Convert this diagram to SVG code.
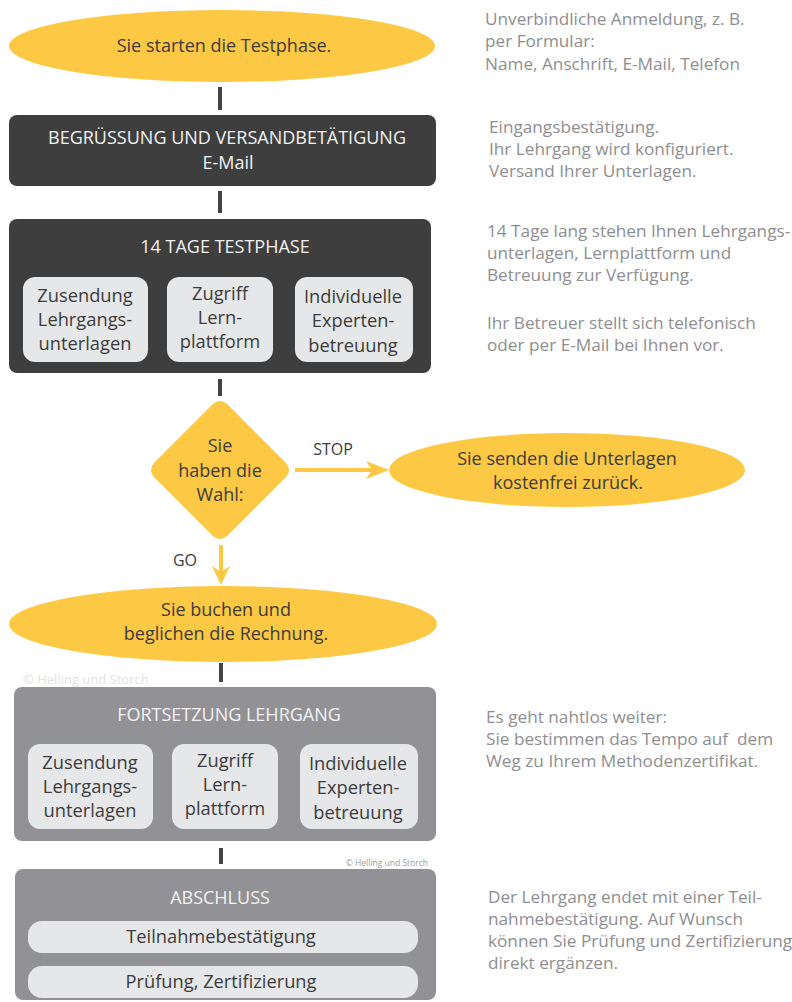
<svg xmlns="http://www.w3.org/2000/svg" width="792" height="1002" viewBox="0 0 792 1002">
<style>
.t{font-family:"Open Sans","Liberation Sans",sans-serif;text-anchor:middle}
.dk{fill:#3c3c3c;font-size:18px}
.wh{fill:#f2f2f2;font-size:18px}
.sb{fill:#3c3c3c;font-size:18.3px}
.note{font-family:"Open Sans","Liberation Sans",sans-serif;fill:#8e8e91;font-size:17.2px}
.yel{fill:#fdc843}
.dark{fill:#3e3e3e}
.gray{fill:#929296}
.sub{fill:#e6e7e8}
.con{stroke:#444;stroke-width:4}
.arr{stroke:#fdc843;stroke-width:4}
</style>
<rect width="792" height="1002" fill="#ffffff"/>
<g id="connectors">
<line class="con" x1="220" y1="87" x2="220" y2="110"/>
<line class="con" x1="220" y1="191" x2="220" y2="213"/>
<line class="con" x1="220" y1="379" x2="220" y2="396"/>
<line class="con" x1="221" y1="663" x2="221" y2="682"/>
<line class="con" x1="221" y1="848" x2="221" y2="864"/>
<line class="arr" x1="295" y1="470" x2="373" y2="470"/>
<polygon class="yel" points="366,461 389,470 366,479 372,470"/>
<line class="arr" x1="221" y1="545" x2="221" y2="573"/>
<polygon class="yel" points="212,566 221,585 230,566 221,572"/>
<text class="t dk" x="333" y="455" style="font-size:16px">STOP</text>
<text class="t dk" x="185" y="566" style="font-size:16px">GO</text>
</g>
<g id="start">
<ellipse class="yel" cx="222" cy="46" rx="213" ry="36"/>
<text class="t dk" x="224" y="52">Sie starten die Testphase.</text>
</g>
<g id="begruessung">
<rect class="dark" x="9" y="115" width="427" height="71" rx="8"/>
<text class="t wh" x="227" y="144">BEGRÜSSUNG UND VERSANDBETÄTIGUNG</text>
<text class="t wh" x="228" y="169">E-Mail</text>
</g>
<g id="testphase">
<rect class="dark" x="9" y="219" width="422" height="154" rx="8"/>
<text class="t wh" x="225" y="253">14 TAGE TESTPHASE</text>
<rect class="sub" x="23" y="277" width="125" height="85" rx="12"/>
<text class="t sb" x="85" y="302">Zusendung</text>
<text class="t sb" x="85" y="326">Lehrgangs-</text>
<text class="t sb" x="85" y="350">unterlagen</text>
<rect class="sub" x="167" y="277" width="106" height="85" rx="12"/>
<text class="t sb" x="220" y="300">Zugriff</text>
<text class="t sb" x="220" y="324">Lern-</text>
<text class="t sb" x="220" y="348">plattform</text>
<rect class="sub" x="295" y="277" width="118" height="85" rx="12"/>
<text class="t sb" x="353" y="303">Individuelle</text>
<text class="t sb" x="353" y="327">Experten-</text>
<text class="t sb" x="353" y="352">betreuung</text>
</g>
<g id="wahl">
<rect class="yel" x="-51.7" y="-51.7" width="103.4" height="103.4" rx="10" transform="translate(220,470) rotate(45)"/>
<text class="t dk" x="220" y="452">Sie</text>
<text class="t dk" x="220" y="477">haben die</text>
<text class="t dk" x="220" y="501">Wahl:</text>
</g>
<g id="stop">
<ellipse class="yel" cx="567" cy="470" rx="178" ry="37"/>
<text class="t dk" x="567" y="465">Sie senden die Unterlagen</text>
<text class="t dk" x="568" y="489">kostenfrei zurück.</text>
</g>
<g id="buchen">
<ellipse class="yel" cx="223" cy="624" rx="214" ry="38"/>
<text class="t dk" x="226" y="616">Sie buchen und</text>
<text class="t dk" x="226" y="640">beglichen die Rechnung.</text>
</g>
<text x="23" y="684" font-family="Open Sans, Liberation Sans, sans-serif" font-size="13" fill="#e2e2e2">© Helling und Storch</text>
<g id="fortsetzung">
<rect class="gray" x="14" y="687" width="422" height="154" rx="8"/>
<text class="t wh" x="229" y="721">FORTSETZUNG LEHRGANG</text>
<rect class="sub" x="28" y="744" width="125" height="85" rx="12"/>
<text class="t sb" x="90" y="769">Zusendung</text>
<text class="t sb" x="90" y="793">Lehrgangs-</text>
<text class="t sb" x="90" y="817">unterlagen</text>
<rect class="sub" x="172" y="744" width="106" height="85" rx="12"/>
<text class="t sb" x="225" y="767">Zugriff</text>
<text class="t sb" x="225" y="791">Lern-</text>
<text class="t sb" x="225" y="815">plattform</text>
<rect class="sub" x="300" y="744" width="118" height="85" rx="12"/>
<text class="t sb" x="358" y="770">Individuelle</text>
<text class="t sb" x="358" y="794">Experten-</text>
<text class="t sb" x="358" y="819">betreuung</text>
</g>
<text x="428" y="866" text-anchor="end" font-family="Open Sans, Liberation Sans, sans-serif" font-size="8.5" fill="#9a9a9a">© Helling und Storch</text>
<g id="abschluss">
<rect class="gray" x="15" y="869" width="421" height="131" rx="8"/>
<text class="t wh" x="220" y="904">ABSCHLUSS</text>
<rect class="sub" x="28" y="921" width="390" height="32" rx="14"/>
<text class="t sb" x="221" y="943">Teilnahmebestätigung</text>
<rect class="sub" x="28" y="966" width="390" height="32" rx="14"/>
<text class="t sb" x="221" y="988">Prüfung, Zertifizierung</text>
</g>
<g id="notes">
<text class="note" x="485" y="25">Unverbindliche Anmeldung, z. B.</text>
<text class="note" x="485" y="47">per Formular:</text>
<text class="note" x="485" y="70">Name, Anschrift, E-Mail, Telefon</text>
<text class="note" x="489" y="133">Eingangsbestätigung.</text>
<text class="note" x="489" y="155">Ihr Lehrgang wird konfiguriert.</text>
<text class="note" x="489" y="177">Versand Ihrer Unterlagen.</text>
<text class="note" x="487" y="237">14 Tage lang stehen Ihnen Lehrgangs-</text>
<text class="note" x="487" y="259">unterlagen, Lernplattform und</text>
<text class="note" x="487" y="281">Betreuung zur Verfügung.</text>
<text class="note" x="487" y="329">Ihr Betreuer stellt sich telefonisch</text>
<text class="note" x="487" y="351">oder per E-Mail bei Ihnen vor.</text>
<text class="note" x="486" y="723">Es geht nahtlos weiter:</text>
<text class="note" x="486" y="745">Sie bestimmen das Tempo auf&#160; dem</text>
<text class="note" x="486" y="767">Weg zu Ihrem Methodenzertifikat.</text>
<text class="note" x="488" y="903">Der Lehrgang endet mit einer Teil-</text>
<text class="note" x="488" y="925">nahmebestätigung. Auf Wunsch</text>
<text class="note" x="488" y="947">können Sie Prüfung und Zertifizierung</text>
<text class="note" x="488" y="969">direkt ergänzen.</text>
</g>
</svg>
